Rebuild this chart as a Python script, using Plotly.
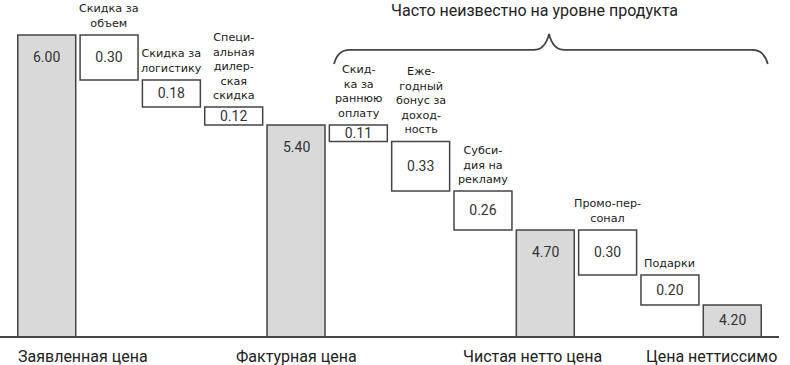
import plotly.graph_objects as go

# ---- data ----
categories = [
    "Заявленная цена", "Скидка за объем", "Скидка за логистику",
    "Специальная дилерская скидка", "Фактурная цена",
    "Скидка за раннюю оплату", "Ежегодный бонус за доходность",
    "Субсидия на рекламу", "Чистая нетто цена", "Промо-персонал",
    "Подарки", "Цена неттиссимо",
]
kinds = ["total", "step", "step", "step", "total", "step", "step", "step",
         "total", "step", "step", "total"]
values = [6.00, 0.30, 0.18, 0.12, 5.40, 0.11, 0.33, 0.26, 4.70, 0.30, 0.20, 4.20]
top_labels = [
    "", "Скидка за<br>объем", "Скидка за<br>логистику",
    "Специ-<br>альная<br>дилер-<br>ская<br>скидка", "",
    "Скид-<br>ка за<br>раннюю<br>оплату",
    "Еже-<br>годный<br>бонус за<br>доход-<br>ность",
    "Субси-<br>дия на<br>рекламу", "", "Промо-пер-<br>сонал", "Подарки", "",
]
bottom_labels = ["Заявленная цена", "", "", "", "Фактурная цена", "", "", "",
                 "Чистая нетто цена", "", "", "Цена неттиссимо"]
bracket_text = "Часто неизвестно на уровне продукта"

# ---- layout constants ----
Y_MIN = 3.993
Y_MAX = 6.233
BAR_W = 0.93
EDGE = "#444444"
FILL = "#d9d9d9"
TXT = "#333333"
FONT = "Roboto"
LABEL_FONT = "DejaVu Sans"

# running levels
tot_x, tot_y = [], []
st_x, st_y, st_base, st_txt = [], [], [], []
tops = []
level = 0.0
for i, (k, v) in enumerate(zip(kinds, values)):
    if k == "total":
        level = v
        tot_x.append(i)
        tot_y.append(v)
        tops.append(v)
    else:
        tops.append(level)
        st_x.append(i)
        st_y.append(v)
        st_base.append(level - v)
        st_txt.append(f"{v:.2f}")
        level = level - v

fig = go.Figure()
fig.add_trace(go.Bar(
    x=tot_x, y=tot_y, width=BAR_W,
    marker=dict(color=FILL, line=dict(color=EDGE, width=1.5)),
    hoverinfo="skip", showlegend=False,
))
fig.add_trace(go.Bar(
    x=st_x, y=st_y, base=st_base, width=BAR_W,
    marker=dict(color="white", line=dict(color=EDGE, width=1.5)),
    text=st_txt, textposition="inside", insidetextanchor="middle",
    constraintext="none",
    textfont=dict(family=FONT, size=14, color=TXT),
    hoverinfo="skip", showlegend=False,
))

annotations = []
# values in total bars
for x, v in zip(tot_x, tot_y):
    off = min(0.15, (v - Y_MIN) / 2)
    annotations.append(dict(
        x=x, y=v - off, xref="x", yref="y", text=f"{v:.2f}",
        showarrow=False, yanchor="middle",
        font=dict(family=FONT, size=14, color=TXT),
    ))
# labels above steps
for i, lab in enumerate(top_labels):
    if lab:
        annotations.append(dict(
            x=i, y=tops[i], xref="x", yref="y", text=lab,
            showarrow=False, yanchor="bottom", yshift=3,
            font=dict(family=LABEL_FONT, size=11.2, color="#1a1a1a"),
        ))
# bottom labels
bottom_pos = {0: (-0.5, "left"), 4: (4, "center"), 8: (7.8, "center"),
              11: (11.75, "right")}
for i, lab in enumerate(bottom_labels):
    if lab:
        x, anc = bottom_pos[i]
        annotations.append(dict(
            x=x, y=0, xref="x", yref="paper", text=lab, showarrow=False,
            xanchor=anc, yanchor="top", yshift=-9,
            font=dict(family=FONT, size=16, color="#222222"),
        ))
# bracket title
annotations.append(dict(
    x=7.83, y=1, xref="x", yref="paper", text=bracket_text, showarrow=False,
    yanchor="top", yshift=1,
    font=dict(family=FONT, size=16, color="#222222"),
))

# curly brace
xL, xR, xM = 4.61, 11.57, 8.06
yH, yE, yP = 5.90, 5.807, 6.007
d = 0.25
path = (f"M {xL},{yE} Q {xL+0.06},{yH} {xL+d},{yH} "
        f"L {xM-d},{yH} Q {xM-0.06},{yH} {xM},{yP} "
        f"Q {xM+0.06},{yH} {xM+d},{yH} "
        f"L {xR-d},{yH} Q {xR-0.06},{yH} {xR},{yE}")
shapes = [dict(type="path", path=path, xref="x", yref="y",
               line=dict(color=EDGE, width=1.8))]

fig.update_layout(
    width=790, height=365,
    margin=dict(l=0, r=11, t=0, b=29),
    paper_bgcolor="white", plot_bgcolor="white",
    barmode="overlay",
    xaxis=dict(range=[-0.75, 11.75], showgrid=False, zeroline=False,
               showticklabels=False, ticks="", showline=True,
               linecolor=EDGE, linewidth=1.5),
    yaxis=dict(range=[Y_MIN, Y_MAX], showgrid=False, zeroline=False,
               showticklabels=False, ticks="", showline=False),
    annotations=annotations,
    shapes=shapes,
)

fig.write_html("out.html",
               config={"displayModeBar": False},
               post_script="document.body.style.margin='0';"
                           "document.body.style.overflow='hidden';")
